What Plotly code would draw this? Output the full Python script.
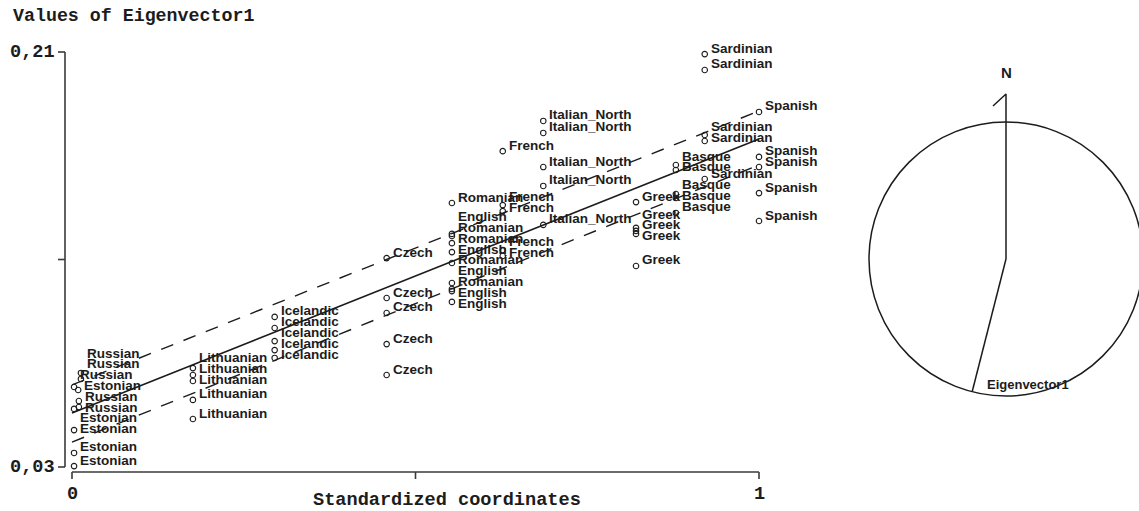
import numpy as np
import plotly.graph_objects as go

# ---- samples: standardized coordinate and value of Eigenvector1 ----
russian_x = [0.013, 0.013, 0.003, 0.010, 0.010]
russian_y = [0.0708, 0.0682, 0.0647, 0.0586, 0.0560]
estonian_x = [0.009, 0.003, 0.003, 0.003, 0.003]
estonian_y = [0.0634, 0.0552, 0.0460, 0.0361, 0.0304]
lithuanian_x = [0.176] * 5
lithuanian_y = [0.0729, 0.0699, 0.0673, 0.0591, 0.0508]
icelandic_x = [0.295] * 5
icelandic_y = [0.0951, 0.0903, 0.0846, 0.0807, 0.0773]
czech_x = [0.458] * 5
czech_y = [0.1206, 0.1033, 0.0968, 0.0833, 0.0699]
romanian_x = [0.553] * 5
romanian_y = [0.1445, 0.1302, 0.1271, 0.1185, 0.1072]
english_x = [0.553] * 5
english_y = [0.1311, 0.1232, 0.1098, 0.1063, 0.1016]
french_x = [0.627] * 5
french_y = [0.1670, 0.1436, 0.1410, 0.1241, 0.1215]
italian_north_x = [0.686] * 5
italian_north_y = [0.1801, 0.1749, 0.1601, 0.1519, 0.1350]
greek_x = [0.821] * 5
greek_y = [0.1449, 0.1337, 0.1324, 0.1311, 0.1172]
basque_x = [0.879] * 5
basque_y = [0.1610, 0.1588, 0.1484, 0.1467, 0.1402]
sardinian_x = [0.921] * 5
sardinian_y = [0.2091, 0.2022, 0.1740, 0.1714, 0.1549]
spanish_x = [1.0] * 5
spanish_y = [0.1840, 0.1645, 0.1601, 0.1488, 0.1367]

groups = [
    ("Russian", russian_x, russian_y),
    ("Estonian", estonian_x, estonian_y),
    ("Lithuanian", lithuanian_x, lithuanian_y),
    ("Icelandic", icelandic_x, icelandic_y),
    ("Czech", czech_x, czech_y),
    ("Romanian", romanian_x, romanian_y),
    ("English", english_x, english_y),
    ("French", french_x, french_y),
    ("Italian_North", italian_north_x, italian_north_y),
    ("Greek", greek_x, greek_y),
    ("Basque", basque_x, basque_y),
    ("Sardinian", sardinian_x, sardinian_y),
    ("Spanish", spanish_x, spanish_y),
]

# fitted line and its band, at the two ends of the coordinate range
fit_x = [0.0, 1.0]
fit_y = [0.0534, 0.1723]
band_upper_y = [0.0656, 0.1844]
band_lower_y = [0.0408, 0.1610]

# axis ticks
x_ticks = [0.0, 0.5, 1.0]
x_tick_text = ["0", "", "1"]
y_ticks = [0.03, 0.12, 0.21]
y_tick_text = ["0,03", "", "0,21"]

# direction of Eigenvector1 (bearing, degrees clockwise from north)
eigen_bearing_deg = 194.3

# ---- layout geometry ----
W, H = 1139, 511
X0_PX, X1_PX = 72, 759          # pixel columns of coordinate 0 and 1
Y_LO_PX, Y_HI_PX = 467, 52      # pixel rows of 0.03 and 0.21
px_per_x = (X1_PX - X0_PX) / 1.0
px_per_y = (Y_LO_PX - Y_HI_PX) / (0.21 - 0.03)
x_range = [-X0_PX / px_per_x, (W - X0_PX) / px_per_x]
y_range = [0.03 - (H - Y_LO_PX) / px_per_y, 0.03 + Y_LO_PX / px_per_y]

# compass subplot: unit circle of radius R px centred at (CX, CY)
CX, CY, R = 1006, 259, 137
x2_range = [-CX / R, (W - CX) / R]
y2_range = [-(H - CY) / R, CY / R]

INK = "#1c1c1c"
MONO = "Courier New, Liberation Mono, monospace"
SANS = "Arial, Liberation Sans, sans-serif"

fig = go.Figure()

# fitted line and band
fig.add_trace(go.Scatter(x=fit_x, y=band_upper_y, mode="lines",
                         line=dict(color=INK, width=1.4, dash="13px,11px"),
                         hoverinfo="skip", showlegend=False))
fig.add_trace(go.Scatter(x=fit_x, y=band_lower_y, mode="lines",
                         line=dict(color=INK, width=1.4, dash="13px,11px"),
                         hoverinfo="skip", showlegend=False))
fig.add_trace(go.Scatter(x=fit_x, y=fit_y, mode="lines",
                         line=dict(color=INK, width=1.6),
                         hoverinfo="skip", showlegend=False))

# sample points
all_names, all_x, all_y = [], [], []
for name, xs, ys in groups:
    fig.add_trace(go.Scatter(x=xs, y=ys, mode="markers", name=name,
                             marker=dict(symbol="circle-open", size=5.5,
                                         color=INK, line=dict(width=1.1)),
                             cliponaxis=False, showlegend=False))
    all_names += [name] * len(xs)
    all_x += list(xs)
    all_y += list(ys)


def spread(targets, gap, iters=800):
    """Push sorted label rows apart until neighbours are at least `gap` px apart."""
    pos = list(targets)
    for _ in range(iters):
        moved = False
        for i in range(len(pos) - 1):
            d = pos[i + 1] - pos[i]
            if d < gap - 1e-6:
                s = (gap - d) / 2
                pos[i] -= s
                pos[i + 1] += s
                moved = True
        if not moved:
            break
    return pos


# labels: placed up-right of each point, rows spread within each column
all_x = np.array(all_x)
all_y = np.array(all_y)
point_px = Y_LO_PX - (all_y - 0.03) * px_per_y
label_px = point_px - 6.0
order = np.argsort(all_x)
columns, cur = [], [order[0]]
for i in order[1:]:
    if all_x[i] - all_x[cur[-1]] < 0.03:
        cur.append(i)
    else:
        columns.append(cur)
        cur = [i]
columns.append(cur)
for col in columns:
    col = sorted(col, key=lambda k: label_px[k])
    new = spread([label_px[k] for k in col], 10.8)
    for k, v in zip(col, new):
        label_px[k] = v

annotations = []
for k in range(len(all_names)):
    annotations.append(dict(
        x=all_x[k], y=all_y[k], xref="x", yref="y", text="<b>%s</b>" % all_names[k],
        showarrow=False, xanchor="left", yanchor="middle",
        xshift=4, yshift=float(point_px[k] - label_px[k]),
        font=dict(family=SANS, size=13.5, color=INK)))

# axes drawn offset from the data region
shapes = []
AX_OFF_Y = 7   # y axis sits 7 px left of coordinate 0
AX_OFF_X = 5   # x axis sits 5 px below 0.03
TICK = 7
shapes.append(dict(type="line", xref="x", yref="y", xsizemode="pixel", xanchor=0,
                   x0=-AX_OFF_Y, x1=-AX_OFF_Y, y0=y_ticks[0], y1=y_ticks[-1],
                   line=dict(color="#3a3a3a", width=1.6)))
for t, txt in zip(y_ticks, y_tick_text):
    shapes.append(dict(type="line", xref="x", yref="y", xsizemode="pixel", xanchor=0,
                       x0=-AX_OFF_Y - TICK, x1=-AX_OFF_Y, y0=t, y1=t,
                       line=dict(color="#3a3a3a", width=1.6)))
    if txt:
        annotations.append(dict(x=0, y=t, xref="x", yref="y", text="<b>%s</b>" % txt,
                                showarrow=False, xanchor="right", yanchor="middle",
                                xshift=-AX_OFF_Y - TICK - 1,
                                font=dict(family=MONO, size=18.6, color=INK)))
shapes.append(dict(type="line", xref="x", yref="y", ysizemode="pixel", yanchor=y_ticks[0],
                   y0=-AX_OFF_X, y1=-AX_OFF_X, x0=x_ticks[0], x1=x_ticks[-1],
                   line=dict(color="#3a3a3a", width=1.6)))
for t, txt in zip(x_ticks, x_tick_text):
    shapes.append(dict(type="line", xref="x", yref="y", ysizemode="pixel", yanchor=y_ticks[0],
                       y0=-AX_OFF_X - TICK, y1=-AX_OFF_X, x0=t, x1=t,
                       line=dict(color="#3a3a3a", width=1.6)))
    if txt:
        annotations.append(dict(x=t, y=y_ticks[0], xref="x", yref="y", text="<b>%s</b>" % txt,
                                showarrow=False, xanchor="center", yanchor="middle",
                                yshift=-27,
                                font=dict(family=MONO, size=18.6, color=INK)))

annotations.append(dict(x=11 / W, y=1 - 16 / H, xref="paper", yref="paper",
                        text="<b>Values of Eigenvector1</b>", showarrow=False,
                        xanchor="left", yanchor="middle",
                        font=dict(family=MONO, size=18.3, color=INK)))
annotations.append(dict(x=447 / W, y=1 - 500 / H, xref="paper", yref="paper",
                        text="<b>Standardized coordinates</b>", showarrow=False,
                        xanchor="center", yanchor="middle",
                        font=dict(family=MONO, size=18.6, color=INK)))

# compass: unit circle, north arrow and the Eigenvector1 direction
b = np.deg2rad(eigen_bearing_deg)
ex, ey = float(np.sin(b)), float(np.cos(b))
shapes.append(dict(type="circle", xref="x2", yref="y2", x0=-1, y0=-1, x1=1, y1=1,
                   line=dict(color=INK, width=1.5)))
fig.add_trace(go.Scatter(x=[-0.095, 0, 0], y=[1.117, 1.204, 0], mode="lines",
                         xaxis="x2", yaxis="y2", line=dict(color=INK, width=1.5),
                         hoverinfo="skip", showlegend=False))
fig.add_trace(go.Scatter(x=[0, ex], y=[0, ey], mode="lines",
                         xaxis="x2", yaxis="y2", line=dict(color=INK, width=1.5),
                         hoverinfo="skip", showlegend=False))
annotations.append(dict(x=0, y=1.204, xref="x2", yref="y2", text="<b>N</b>",
                        showarrow=False, xanchor="center", yanchor="middle", yshift=22,
                        font=dict(family=SANS, size=15, color=INK)))
annotations.append(dict(x=ex, y=ey, xref="x2", yref="y2", text="<b>Eigenvector1</b>",
                        showarrow=False, xanchor="left", yanchor="middle",
                        xshift=13, yshift=7,
                        font=dict(family=SANS, size=13, color=INK)))

fig.update_layout(
    width=W, height=H,
    margin=dict(l=0, r=0, t=0, b=0),
    paper_bgcolor="white", plot_bgcolor="rgba(0,0,0,0)",
    showlegend=False,
    xaxis=dict(range=x_range, visible=False, fixedrange=True),
    yaxis=dict(range=y_range, visible=False, fixedrange=True),
    xaxis2=dict(range=x2_range, visible=False, domain=[0, 1], anchor="y2", fixedrange=True),
    yaxis2=dict(range=y2_range, visible=False, domain=[0, 1], anchor="x2", fixedrange=True),
    shapes=shapes,
    annotations=annotations,
)

fig.write_html("out.html")
